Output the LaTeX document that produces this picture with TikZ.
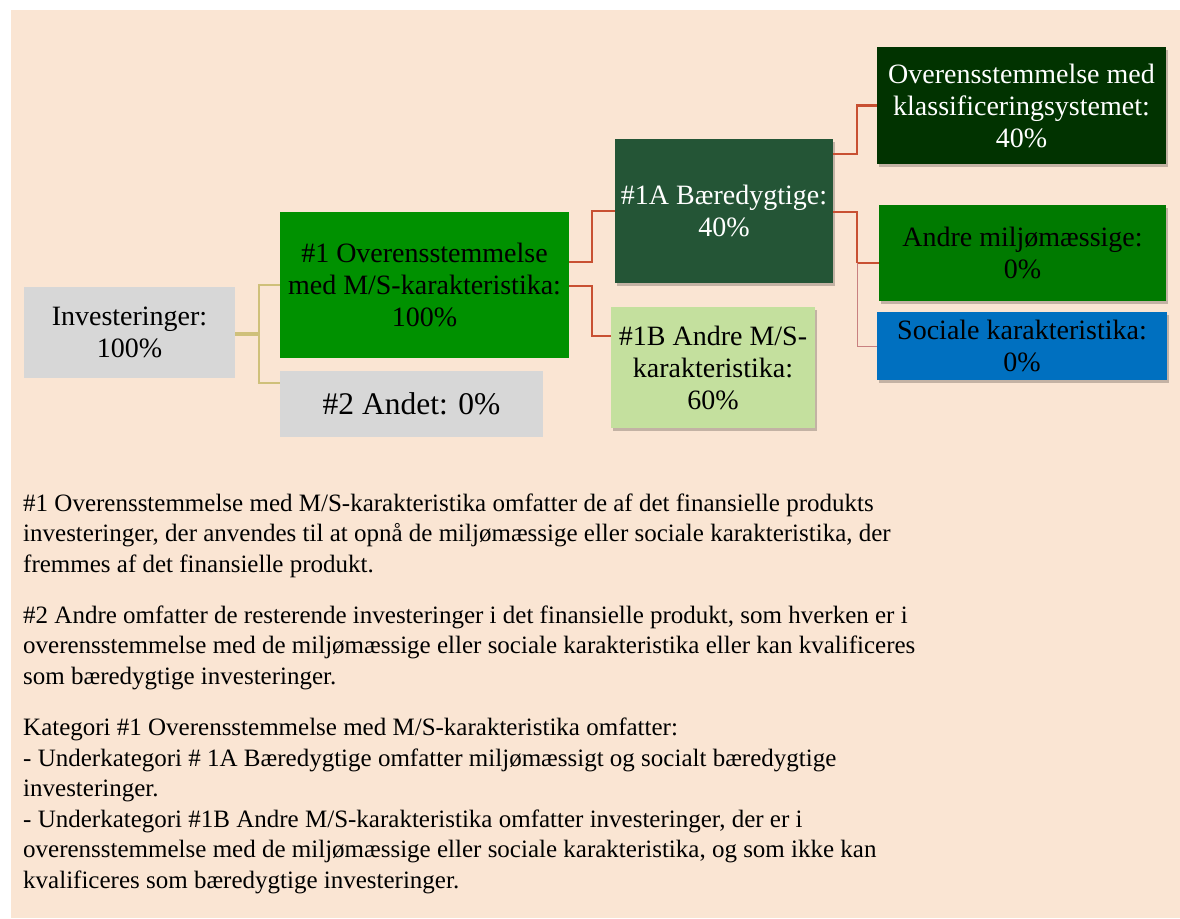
\documentclass[tikz,border=0pt]{standalone}
\usepackage{fontspec}
\setmainfont{Liberation Serif}
\usetikzlibrary{shadows}
\definecolor{bg}{RGB}{250,229,211}
\definecolor{greyb}{RGB}{215,215,215}
\definecolor{greenA}{RGB}{0,145,0}
\definecolor{darkA}{RGB}{36,85,54}
\definecolor{darkB}{RGB}{1,51,0}
\definecolor{greenB}{RGB}{0,122,0}
\definecolor{blueS}{RGB}{0,112,192}
\definecolor{lightG}{RGB}{196,224,158}
\definecolor{orl}{RGB}{200,80,50}
\definecolor{pinkl}{RGB}{200,128,128}
\definecolor{khaki}{RGB}{207,192,122}
\begin{document}
\begin{tikzpicture}[x=1pt,y=-1pt,
  box/.style={rectangle, inner sep=0pt, align=center, font=\fontsize{28}{32}\selectfont},
  shd/.style={drop shadow={shadow xshift=2pt, shadow yshift=-3pt, opacity=0.22, fill=black}},
  para/.style={anchor=base west, inner sep=0pt, align=left, font=\fontsize{25}{30.5}\selectfont},
  conK/.style={draw=khaki, line width=#1},
  conO/.style={draw=orl, line width=#1}]
\useasboundingbox (0,0) rectangle (1180,918);
\fill[bg] (11,10) rectangle (1180,918);
% boxes
\node[box, fill=greyb, minimum width=211pt, minimum height=91pt] (inv) at (129.5,332.5) {Investeringer:\\100\%};
\node[box, fill=greenA, minimum width=289pt, minimum height=146pt] (n1) at (424.5,285) {\#1 Overensstemmelse\\med M/S-karakteristika:\\100\%};
\node[box, fill=greyb, minimum width=263pt, minimum height=66pt, font=\fontsize{31.5}{36}\selectfont] (n2) at (411.5,404) {\#2 Andet: 0\%};
\node[box, shd, fill=darkA, text=white, minimum width=218pt, minimum height=144pt] (n1a) at (724,211) {\#1A Bæredygtige:\\40\%};
\node[box, shd, fill=lightG, minimum width=204pt, minimum height=121pt] (n1b) at (713,367.5) {\#1B Andre M/S-\\karakteristika:\\60\%};
\node[box, shd, fill=darkB, text=white, minimum width=289pt, minimum height=117pt] (topr) at (1021.5,105.5) {Overensstemmelse med\\klassificeringsystemet:\\40\%};
\node[box, shd, fill=greenB, minimum width=287pt, minimum height=96pt] (andre) at (1022.5,253) {Andre miljømæssige:\\0\%};
\node[box, shd, fill=blueS, minimum width=290pt, minimum height=68pt] (soc) at (1022,346) {Sociale karakteristika:\\0\%};
% connectors
\coordinate (j0) at (259,334);
\coordinate (j1) at (259,383);
\draw[conK=4pt] (inv.east |- j0) -- (j0);
\draw[conK=2pt] (n1.west) -| (j0) -- (j1) -- (n2.west |- j1);
\coordinate (a1) at (592,262);
\coordinate (a2) at (592,286);
\coordinate (a3) at (592,336);
\draw[conO=2.5pt] (n1.east |- a1) -- (a1) |- (n1a.west);
\draw[conO=2.5pt] (n1.east |- a2) -- (a2) -- (a3) -- (n1b.west |- a3);
\coordinate (c1) at (857,154);
\coordinate (c2) at (857,212);
\coordinate (c3) at (857,263);
\draw[conO=2.5pt] (n1a.east |- c1) -- (c1) |- (topr.west);
\draw[conO=1.5pt] (n1a.east |- c2) -- (c2) -- (c3);
\draw[conO=2.5pt] (c3) -- (andre.west |- c3);
\draw[draw=pinkl, line width=1pt] (c3) |- (soc.west);
% text (anchored at the last line)
\node[para] (p1) at (23,572) {\#1 Overensstemmelse med M/S-karakteristika omfatter de af det finansielle produkts\\investeringer, der anvendes til at opnå de miljømæssige eller sociale karakteristika, der\\fremmes af det finansielle produkt.};
\node[para] (p2) at (23,684) {\#2 Andre omfatter de resterende investeringer i det finansielle produkt, som hverken er i\\overensstemmelse med de miljømæssige eller sociale karakteristika eller kan kvalificeres\\som bæredygtige investeringer.};
\node[para] (p3) at (23,888) {Kategori \#1 Overensstemmelse med M/S-karakteristika omfatter:\\- Underkategori \# 1A Bæredygtige omfatter miljømæssigt og socialt bæredygtige\\investeringer.\\- Underkategori \#1B Andre M/S-karakteristika omfatter investeringer, der er i\\overensstemmelse med de miljømæssige eller sociale karakteristika, og som ikke kan\\kvalificeres som bæredygtige investeringer.};
\end{tikzpicture}
\end{document}
